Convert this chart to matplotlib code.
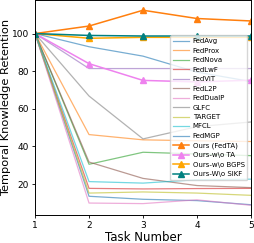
import matplotlib
matplotlib.use('Agg')
import matplotlib.pyplot as plt

tasks = [1, 2, 3, 4, 5]

# baselines
fedavg = [100, 13.5, 11.9, 11.2, 9.0]
fedprox = [100, 46.3, 43.5, 43.0, 42.6]
fednova = [100, 30.5, 36.9, 36.0, 35.1]
fedlwf = [100, 17.7, 17.4, 17.6, 17.7]
fedvit = [100, 81.4, 81.4, 81.4, 81.4]
fedl2p = [100, 31.7, 23.0, 19.2, 18.1]
feddualp = [100, 9.9, 9.6, 11.6, 8.7]
glfc = [100, 66.8, 44.0, 50.5, 53.0]
target = [100, 15.2, 15.8, 15.2, 14.0]
mfcl = [100, 21.3, 20.5, 22.3, 22.6]
fedmgp = [100, 93.0, 88.0, 79.5, 74.5]

# ours + ablations
ours = [100, 104.0, 112.4, 108.0, 106.7]
ours_wo_ta = [100, 84.0, 75.1, 74.3, 75.2]
ours_wo_bgps = [100, 97.5, 98.0, 98.0, 98.0]
ours_wo_sikf = [100, 99.0, 98.7, 98.7, 98.7]

baselines = [
    ('FedAvg', fedavg), ('FedProx', fedprox), ('FedNova', fednova),
    ('FedLwF', fedlwf), ('FedViT', fedvit), ('FedL2P', fedl2p),
    ('FedDualP', feddualp), ('GLFC', glfc), ('TARGET', target),
    ('MFCL', mfcl), ('FedMGP', fedmgp),
]
ours_lines = [
    ('Ours (FedTA)', ours, 'tab:orange'),
    ('Ours-w\\o TA', ours_wo_ta, 'violet'),
    ('Ours-w\\o BGPS', ours_wo_bgps, 'orange'),
    ('Ours-W\\o SIKF', ours_wo_sikf, 'teal'),
]

fig, ax = plt.subplots(figsize=(2.54, 2.43), dpi=100)
fig.subplots_adjust(left=0.138, right=0.988, top=0.998, bottom=0.115)

colors = plt.rcParams['axes.prop_cycle'].by_key()['color']
for i, (name, vals) in enumerate(baselines):
    ax.plot(tasks, vals, color=colors[i % len(colors)], alpha=0.6, lw=0.9, label=name)

for name, vals, c in ours_lines:
    ax.plot(tasks, vals, color=c, lw=1.1, marker='^', markersize=4, label=name)

ax.set_xlim(1, 5)
ax.set_xticks(tasks)
ax.set_yticks([20, 40, 60, 80, 100])
ax.tick_params(labelsize=6.5, length=2.5, width=0.6, pad=2)
ax.set_xlabel('Task Number', fontsize=8.5, labelpad=0.5)
ax.set_ylabel('Temporal Knowledge Retention', fontsize=8.2, labelpad=0)
for s in ax.spines.values():
    s.set_linewidth(0.7)

ax.legend(loc='center right', fontsize=5, handlelength=2.2, labelspacing=0.5,
          borderpad=0.4, handletextpad=0.6, framealpha=0.8)

fig.savefig('out.png', dpi=100)
